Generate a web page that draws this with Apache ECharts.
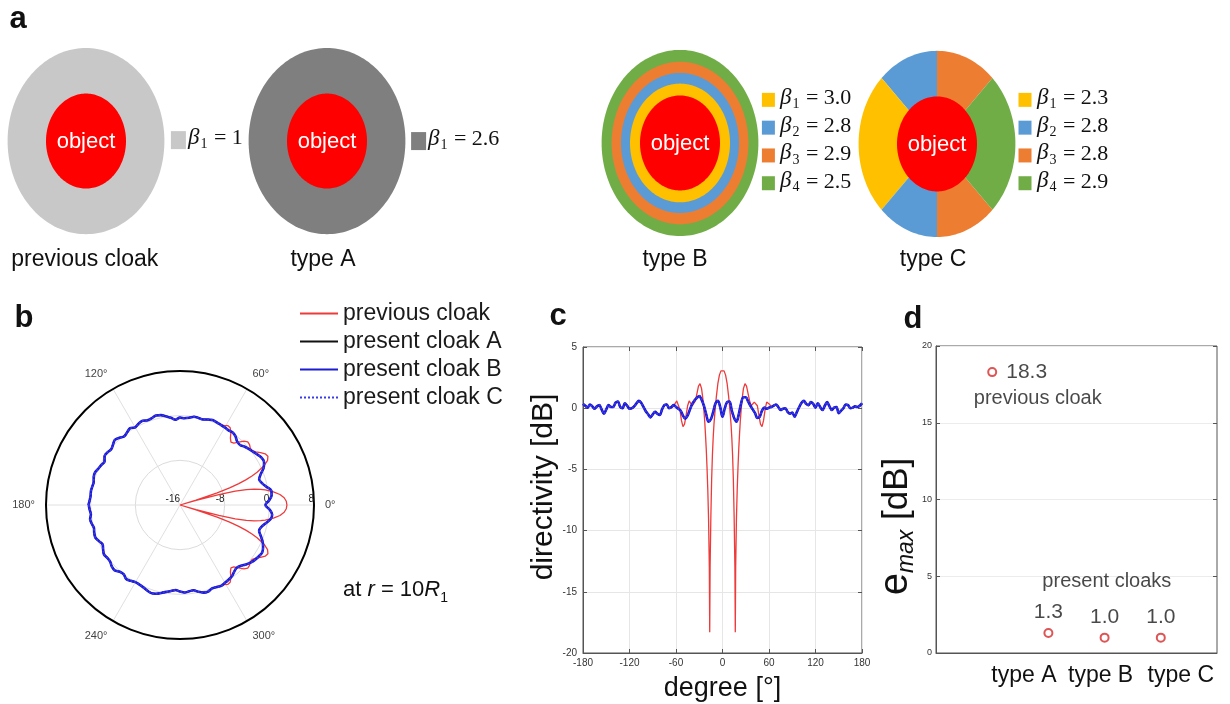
<!DOCTYPE html>
<html>
<head>
<meta charset="utf-8">
<script src="https://cdn.jsdelivr.net/npm/echarts@6/dist/echarts.min.js"></script>
<style>
html,body{margin:0;padding:0;background:#ffffff;}
#chart{width:1230px;height:704px;}
</style>
</head>
<body>
<div id="chart"></div>
<script>
// ================= DATA =================
// panel a : cloak designs and their beta values
const cloakNames = ['previous cloak', 'type A', 'type B', 'type C'];
const betaPrev = [1];
const betaA = [2.6];
const betaB = [3.0, 2.8, 2.9, 2.5];
const betaC = [2.3, 2.8, 2.8, 2.9];
const betaDigits = [0, 1, 1, 1];

// panels b & c : directivity [dB] versus angle [deg]
const seriesNames = ['previous cloak', 'present cloak A', 'present cloak B', 'present cloak C'];

const degPresent = [
  -180,-177,-174,-171,-168,-165,-162,-159,-156,-153,
  -150,-147,-144,-141,-138,-135,-132,-129,-126,-123,
  -120,-117,-114,-111,-108,-105,-102,-99,-96,-93,
  -90,-87,-84,-81,-78,-75,-72,-69,-66,-63,
  -60,-57,-54,-51,-48,-45,-42,-39,-36,-33,
  -30,-27,-24,-21,-18,-15,-12,-9,-6,-3,
  0,3,6,9,12,15,18,21,24,27,
  30,33,36,39,42,45,48,51,54,57,
  60,63,66,69,72,75,78,81,84,87,
  90,93,96,99,102,105,108,111,114,117,
  120,123,126,129,132,135,138,141,144,147,
  150,153,156,159,162,165,168,171,174,177,
  180
];
const dirPresent = [
  0.35,0.2,0.05,0.3,0.15,-0.05,0.15,0.25,-0.1,-0.45,
  -0.1,0.25,0.1,0.1,0.45,0.55,0.1,0.0,0.4,0.2,
  -0.05,0.0,0.15,0.4,0.6,0.45,0.1,-0.25,-0.5,-0.75,
  -0.5,-0.3,-0.45,-0.55,-0.1,0.25,0.3,0.0,0.1,0.25,
  0.1,-0.05,-0.2,-0.6,-0.85,-0.6,-0.1,0.35,0.65,0.85,
  1.0,0.7,0.2,-0.5,-1.1,-0.9,-0.3,0.4,0.6,0.1,
  -0.7,0.0,0.5,0.55,-0.2,-0.8,-1.1,-0.5,0.4,0.9,
  0.9,0.55,0.2,-0.1,-0.4,-0.8,-0.7,-0.2,0.05,-0.05,
  0.05,0.1,0.2,0.3,0.1,-0.15,-0.05,0.0,-0.3,-0.45,
  -0.35,-0.7,-0.3,0.1,0.45,0.6,0.35,0.25,0.5,0.35,
  0.05,0.4,0.1,-0.15,0.2,0.5,0.15,-0.15,0.05,0.1,
  -0.4,-0.2,0.0,0.3,0.25,0.0,0.05,0.15,0.1,0.2,
  0.4
];

const degPrev = [
  -180,-177,-174,-171,-168,-165,-162,-159,-156,-153,
  -150,-147,-144,-141,-138,-135,-132,-129,-126,-123,
  -120,-117,-114,-111,-108,-105,-102,-99,-96,-93,
  -90,-87,-84,-81,-78,-75,-72,-69,-66,-63,
  -61,-59,-57,-55,-53,-51,-49,-47,-45,-43,
  -41,-39,-37,-35,-33,-31,-29,-27,-25,-23,
  -22,-21,-20,-19,-18,-17,-16.5,-16,-15,-14,
  -13,-12,-11,-10,-9,-8,-6,-4,-2,
  0,
  2,4,6,8,9,10,11,12,13,
  14,15,16,16.5,17,18,19,20,21,22,
  23,25,27,29,31,33,35,37,39,41,
  43,45,47,49,51,53,55,57,59,61,
  63,66,69,72,75,78,81,84,87,90,
  93,96,99,102,105,108,111,114,117,120,
  123,126,129,132,135,138,141,144,147,150,
  153,156,159,162,165,168,171,174,177,180
];
const dirPrev = [
  0.3,0.15,0.0,0.3,0.2,0.0,0.1,0.25,-0.05,-0.4,
  -0.15,0.2,0.15,0.05,0.4,0.55,0.15,-0.05,0.35,0.25,
  0.0,-0.05,0.2,0.4,0.55,0.5,0.15,-0.2,-0.45,-0.7,
  -0.55,-0.25,-0.4,-0.6,-0.15,0.2,0.35,0.05,0.0,0.2,
  0.3,0.6,0.5,-0.1,-1.0,-1.5,-1.3,-0.6,0.2,0.6,
  0.5,0.2,0.2,0.6,1.2,1.8,2.0,1.6,0.6,-1.0,
  -2.1,-3.3,-4.8,-6.6,-9.0,-13.0,-18.3,-13.0,-8.8,-5.8,
  -3.8,-2.4,-1.3,-0.5,0.2,0.9,2.0,2.7,3.05,
  3.15,
  3.05,2.7,2.0,0.9,0.2,-0.5,-1.3,-2.4,-3.8,
  -5.8,-8.8,-13.0,-18.3,-13.0,-9.0,-6.6,-4.8,-3.3,-2.1,
  -1.0,0.6,1.6,2.0,1.8,1.2,0.6,0.2,0.2,0.5,
  0.6,0.2,-0.6,-1.3,-1.5,-1.0,-0.1,0.5,0.6,0.3,
  0.1,0.25,0.3,0.05,-0.1,-0.05,0.05,-0.25,-0.4,-0.4,
  -0.65,-0.35,0.05,0.4,0.6,0.4,0.2,0.45,0.4,0.1,
  0.35,0.15,-0.1,0.15,0.5,0.2,-0.1,0.0,0.15,-0.35,
  -0.25,0.05,0.3,0.2,0.05,0.0,0.2,0.1,0.15,0.35
];

// panel d : maximum error e_max [dB]
const dTypeLabels = ['', '', 'type A', 'type B', 'type C', ''];
const dPositions = [1, 2, 3, 4];
const emax = [18.3, 1.3, 1.0, 1.0];
const dNotes = ['previous cloak', 'present cloaks'];

// ================= STYLE / LAYOUT =================
const FONT = "'Liberation Sans', Arial, Helvetica, sans-serif";
const SERIF = "'Liberation Serif', 'DejaVu Serif', serif";
const singleColors = ['#c8c8c8', '#7f7f7f'];
const betaColors = ['#ffc000', '#5b9bd5', '#ed7d31', '#70ad47'];
const objectColor = '#ff0000';
const lineStyles = [
  {color: '#ee3a3a', width: 1.3},
  {color: '#111111', width: 1.6},
  {color: '#1c1cd2', width: 2.6},
  {color: '#3a3af0', width: 1.8, type: 'dotted'}
];
const layoutA = {
  cx: [2.15, 8.175, 17.0, 23.425],
  cy: [2.97, 2.97, 3.01, 3.03],
  rOuter: 1.96, rObject: 1.0,
  ringR: [1.96, 1.71, 1.475, 1.25],
  sectors: [[45, 90, 2], [90, 135, 1], [135, 225, 0], [225, 270, 1], [270, 315, 2], [315, 405, 3]],
  nameY: 5.474, nameDx: [-0.03, -0.1, -0.125, -0.1],
  sqDx: [2.31, 2.29, 2.21, 2.2], txDx: [2.55, 2.525, 2.5, 2.5],
  legendY: [2.95, 2.97, 2.98, 2.98], rowGap: 0.585
};
const dNotePos = [[1.81, 16.55], [3.04, 4.63]];

const betaSets = [betaPrev, betaA, betaB, betaC];
const betaRich = {
  b: {fontFamily: SERIF, fontStyle: 'italic', fontSize: 23, fill: '#111', verticalAlign: 'top'},
  s: {fontFamily: SERIF, fontSize: 14, fill: '#111', verticalAlign: 'top', padding: [11, 1, 0, 1]},
  t: {fontFamily: SERIF, fontSize: 22, fill: '#111', verticalAlign: 'top', padding: [1, 0, 0, 0]}
};

function renderCloak(params, api) {
  const i = params.dataIndex;
  const L = layoutA;
  const cx = L.cx[i], cy = L.cy[i];
  const els = [];
  const poly = (r, a0, a1, fill) => {
    const pts = [];
    const full = (a1 - a0) >= 360;
    if (!full) pts.push(api.coord([cx, cy]));
    const n = Math.max(6, Math.ceil((a1 - a0) / 2));
    for (let k = 0; k <= n; k++) {
      const a = (a0 + (a1 - a0) * k / n) * Math.PI / 180;
      pts.push(api.coord([cx + r * Math.cos(a), cy - r * Math.sin(a)]));
    }
    return {type: 'polygon', shape: {points: pts}, style: {fill: fill, stroke: null}};
  };
  if (i < 2) {
    els.push(poly(L.rOuter, 0, 360, singleColors[i]));
  } else if (i === 2) {
    L.ringR.forEach((r, k) => els.push(poly(r, 0, 360, betaColors[3 - k])));
  } else {
    L.sectors.forEach(s => els.push(poly(L.rOuter, s[0], s[1], betaColors[s[2]])));
  }
  els.push(poly(L.rObject, 0, 360, objectColor));
  const c = api.coord([cx, cy]);
  els.push({type: 'text', x: c[0], y: c[1] + 1, style: {text: 'object', fill: '#ffffff', fontSize: 22, fontFamily: FONT,
    align: 'center', verticalAlign: 'middle', textAlign: 'center', textVerticalAlign: 'middle'}});
  const nm = api.coord([cx + L.nameDx[i], L.nameY]);
  els.push({type: 'text', x: nm[0], y: nm[1], style: {text: cloakNames[i], fill: '#111', fontSize: 23, fontFamily: FONT,
    align: 'center', verticalAlign: 'middle', textAlign: 'center', textVerticalAlign: 'middle'}});
  const betas = betaSets[i];
  const n = betas.length;
  betas.forEach((b, k) => {
    const ry = L.legendY[i] + (k - (n - 1) / 2) * L.rowGap;
    const sq = api.coord([cx + L.sqDx[i], ry]);
    const tx = api.coord([cx + L.txDx[i], ry]);
    const w = n === 1 ? 15 : 13, h = n === 1 ? 18 : 14;
    els.push({type: 'rect', shape: {x: sq[0] - w / 2, y: sq[1] - h / 2, width: w, height: h},
      style: {fill: n === 1 ? singleColors[i] : betaColors[k]}});
    els.push({type: 'text', x: tx[0], y: tx[1] - 1, style: {
      text: '{b|β}{s|' + (k + 1) + '}{t| = ' + b.toFixed(betaDigits[i]) + '}',
      rich: betaRich, align: 'left', verticalAlign: 'middle', textAlign: 'left', textVerticalAlign: 'middle'}});
  });
  return {type: 'group', children: els};
}

// ================= OPTION =================
const rMin = -16;
const toPolar = (degs, vals) => degs.map((d, i) => [Math.max(vals[i], rMin), (d + 360) % 360]);
const toXY = (degs, vals) => degs.map((d, i) => [d, vals[i]]);
const polarData = [toPolar(degPrev, dirPrev), toPolar(degPresent, dirPresent),
                   toPolar(degPresent, dirPresent), toPolar(degPresent, dirPresent)];
const cartData = [toXY(degPrev, dirPrev), toXY(degPresent, dirPresent),
                  toXY(degPresent, dirPresent), toXY(degPresent, dirPresent)];

const series = [];
seriesNames.forEach((name, k) => {
  series.push({type: 'line', name: name, coordinateSystem: 'polar', polarIndex: 0,
    data: polarData[k], symbol: 'none', smooth: k === 0 ? false : 0.35,
    lineStyle: lineStyles[k], itemStyle: {color: lineStyles[k].color}, z: 3 + k, silent: true});
});
seriesNames.forEach((name, k) => {
  series.push({type: 'line', name: name, xAxisIndex: 0, yAxisIndex: 0,
    data: cartData[k], symbol: 'none', smooth: k === 0 ? false : 0.35,
    lineStyle: lineStyles[k], itemStyle: {color: lineStyles[k].color}, z: 3 + k, silent: true});
});
series.push({
  type: 'scatter', xAxisIndex: 2, yAxisIndex: 2, symbol: 'emptyCircle', symbolSize: 8, silent: true,
  itemStyle: {color: '#d42a2a', borderWidth: 1.5},
  data: dPositions.map((x, i) => ({value: [x, emax[i]],
    label: i === 0 ? {position: 'right', distance: 9} : {position: 'top', distance: 5}})),
  label: {show: true, formatter: p => p.value[1].toFixed(1), fontSize: 21, color: '#1a1a1a', fontFamily: FONT}
});
series.push({
  type: 'scatter', xAxisIndex: 2, yAxisIndex: 2, symbolSize: 0, silent: true,
  data: dNotes.map((t, i) => ({name: t, value: dNotePos[i]})),
  label: {show: true, position: 'inside', formatter: '{b}', fontSize: 20, color: '#1a1a1a', fontFamily: FONT}
});
series.push({
  type: 'custom', xAxisIndex: 3, yAxisIndex: 4, silent: true,
  data: cloakNames.map((n, i) => [layoutA.cx[i], layoutA.cy[i]]),
  renderItem: renderCloak
});

const tickLabel = {fontSize: 10, color: '#333', fontFamily: FONT};
const typeRich = {
  A: {fontSize: 23, color: '#111', fontFamily: FONT, padding: [0, 49, 0, 0]},
  B: {fontSize: 23, color: '#111', fontFamily: FONT, padding: [0, 8, 0, 0]},
  C: {fontSize: 23, color: '#111', fontFamily: FONT, padding: [0, 0, 0, 40]}
};
const option = {
  animation: false,
  backgroundColor: '#ffffff',
  textStyle: {fontFamily: FONT},
  legend: {
    data: seriesNames, orient: 'vertical', left: 294, top: 297,
    itemWidth: 38, itemHeight: 14, itemGap: 5, selectedMode: false,
    itemStyle: {opacity: 0},
    textStyle: {fontSize: 23, color: '#1a1a1a', fontFamily: FONT}
  },
  polar: {center: [180, 505], radius: 134},
  angleAxis: {
    type: 'value', min: 0, max: 360, interval: 60, startAngle: 0, clockwise: false,
    axisLine: {lineStyle: {color: '#000', width: 2}}, axisTick: {show: false},
    axisLabel: {formatter: v => (v === 360 ? '' : v + '°'), fontSize: 11, color: '#444', margin: 11, fontFamily: FONT},
    splitLine: {show: true, lineStyle: {color: '#e0e0e0', width: 1}}
  },
  radiusAxis: {
    type: 'value', min: -16, max: 8, interval: 8,
    axisLine: {show: false}, axisTick: {show: false},
    axisLabel: {fontSize: 10, color: '#222', margin: 1, align: 'right', fontFamily: FONT},
    splitLine: {show: true, lineStyle: {color: '#dcdcdc', width: 1}}
  },
  grid: [
    {left: 583, top: 347, width: 279, height: 306, show: true, borderColor: '#555', borderWidth: 1},
    {left: 936, top: 346, width: 281, height: 307, show: true, borderColor: '#555', borderWidth: 1},
    {left: 0, top: 0, width: 1230, height: 300, show: false}
  ],
  xAxis: [
    {gridIndex: 0, type: 'value', min: -180, max: 180, interval: 60,
      axisLine: {show: true, onZero: false, lineStyle: {color: '#555'}}, axisTick: {inside: true, length: 4, lineStyle: {color: '#555'}},
      axisLabel: Object.assign({margin: 5}, tickLabel),
      splitLine: {show: true, lineStyle: {color: '#e6e6e6'}},
      name: 'degree [°]', nameLocation: 'middle', nameGap: 22,
      nameTextStyle: {fontSize: 27, color: '#111', fontFamily: FONT}},
    {gridIndex: 0, type: 'value', position: 'top', min: -180, max: 180, interval: 60,
      axisLine: {show: false, onZero: false}, axisTick: {inside: true, length: 4, lineStyle: {color: '#555'}},
      axisLabel: {show: false}, splitLine: {show: false}},
    {gridIndex: 1, type: 'value', min: 0, max: 5, interval: 1,
      axisLine: {show: true, onZero: false, lineStyle: {color: '#555'}}, axisTick: {show: false},
      axisLabel: {formatter: v => {
          const t = dTypeLabels[v] || '';
          return t ? '{' + t.slice(-1) + '|' + t + '}' : '';
        }, rich: typeRich, fontSize: 23, color: '#111', margin: 11, fontFamily: FONT},
      splitLine: {show: false}},
    {gridIndex: 2, type: 'value', min: 0, max: 30.75, show: false}
  ],
  yAxis: [
    {gridIndex: 0, type: 'value', min: -20, max: 5, interval: 5,
      axisLine: {show: true, onZero: false, lineStyle: {color: '#555'}}, axisTick: {inside: true, length: 4, lineStyle: {color: '#555'}},
      axisLabel: Object.assign({margin: 6}, tickLabel),
      splitLine: {show: true, lineStyle: {color: '#e6e6e6'}},
      name: 'directivity [dB]', nameLocation: 'middle', nameGap: 22, nameRotate: 90,
      nameTextStyle: {fontSize: 30, color: '#111', fontFamily: FONT, padding: [0, 0, 0, 26]}},
    {gridIndex: 0, type: 'value', position: 'right', min: -20, max: 5, interval: 5,
      axisLine: {show: false, onZero: false}, axisTick: {inside: true, length: 4, lineStyle: {color: '#555'}},
      axisLabel: {show: false}, splitLine: {show: false}},
    {gridIndex: 1, type: 'value', min: 0, max: 20, interval: 5,
      axisLine: {show: true, onZero: false, lineStyle: {color: '#555'}}, axisTick: {inside: true, length: 4, lineStyle: {color: '#555'}},
      axisLabel: Object.assign({margin: 4}, tickLabel, {fontSize: 9}),
      splitLine: {show: true, lineStyle: {color: '#ececec'}},
      name: '{e|e}{m|max}{d| [dB]}', nameLocation: 'middle', nameGap: 17, nameRotate: 90,
      nameTextStyle: {color: '#111', fontFamily: FONT, padding: [0, 54, 0, 0], rich: {
        e: {fontSize: 40, fontFamily: FONT, color: '#111', verticalAlign: 'top'},
        m: {fontSize: 23, fontFamily: FONT, fontStyle: 'italic', color: '#111', verticalAlign: 'top', padding: [19, 0, 0, 0]},
        d: {fontSize: 35, fontFamily: FONT, color: '#111', verticalAlign: 'top', padding: [4, 0, 0, 0]}
      }}},
    {gridIndex: 1, type: 'value', position: 'right', min: 0, max: 20, interval: 5,
      axisLine: {show: false, onZero: false}, axisTick: {inside: true, length: 4, lineStyle: {color: '#555'}},
      axisLabel: {show: false}, splitLine: {show: false}},
    {gridIndex: 2, type: 'value', min: 0, max: 300 / 47.5, inverse: true, show: false}
  ],
  graphic: [
    {type: 'text', x: 18, y: 19, style: {text: 'a', fontSize: 31, fontWeight: 'bold', fontFamily: FONT, fill: '#111',
      align: 'center', verticalAlign: 'middle', textAlign: 'center', textVerticalAlign: 'middle'}},
    {type: 'text', x: 24, y: 318, style: {text: 'b', fontSize: 31, fontWeight: 'bold', fontFamily: FONT, fill: '#111',
      align: 'center', verticalAlign: 'middle', textAlign: 'center', textVerticalAlign: 'middle'}},
    {type: 'text', x: 558, y: 316, style: {text: 'c', fontSize: 31, fontWeight: 'bold', fontFamily: FONT, fill: '#111',
      align: 'center', verticalAlign: 'middle', textAlign: 'center', textVerticalAlign: 'middle'}},
    {type: 'text', x: 913, y: 319, style: {text: 'd', fontSize: 31, fontWeight: 'bold', fontFamily: FONT, fill: '#111',
      align: 'center', verticalAlign: 'middle', textAlign: 'center', textVerticalAlign: 'middle'}},
    {type: 'text', x: 343, y: 592, style: {
      text: '{n|at }{i|r}{n| = 10}{i|R}{s|1}', align: 'left', verticalAlign: 'middle', textAlign: 'left', textVerticalAlign: 'middle',
      rich: {
        n: {fontSize: 22, fontFamily: FONT, fill: '#111', verticalAlign: 'top'},
        i: {fontSize: 22, fontFamily: FONT, fontStyle: 'italic', fill: '#111', verticalAlign: 'top'},
        s: {fontSize: 14, fontFamily: FONT, fill: '#111', verticalAlign: 'top', padding: [12, 0, 0, 0]}
      }}}
  ],
  series: series
};

const chart = echarts.init(document.getElementById('chart'), null, {renderer: 'canvas'});
chart.setOption(option);
</script>
</body>
</html>
